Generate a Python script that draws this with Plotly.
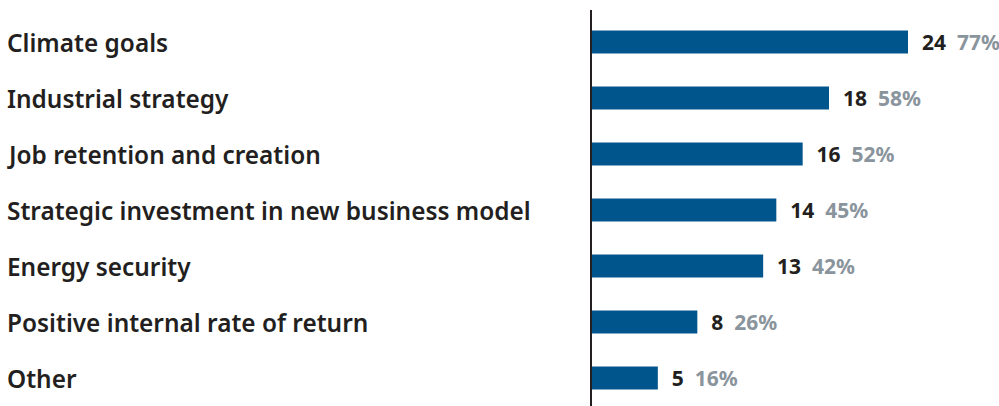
import plotly.graph_objects as go

categories = [
    "Climate goals",
    "Industrial strategy",
    "Job retention and creation",
    "Strategic investment in new business model",
    "Energy security",
    "Positive internal rate of return",
    "Other",
]
counts = [24, 18, 16, 14, 13, 8, 5]
shares = ["77%", "58%", "52%", "45%", "42%", "26%", "16%"]

BAR = "#00558c"
GREY = "#8a949c"
DARK = "#231f20"
FONT = "Noto Sans"

NB = "\u00a0"
labels = [f"{NB}{NB}<b>{c}</b>{NB}{NB}<span style='color:{GREY}'><b>{s}</b></span>" for c, s in zip(counts, shares)]

fig = go.Figure(go.Bar(
    x=counts,
    y=categories,
    orientation="h",
    marker=dict(color=BAR, line=dict(width=0)),
    width=0.41,
    text=labels,
    textposition="outside",
    textfont=dict(family=FONT, size=21, color=DARK),
    constraintext="none",
    cliponaxis=False,
    hoverinfo="skip",
))

W, H = 999, 406
ML, MR, MT, MB = 592, 12, 10, 0
plot_w = W - ML - MR

for c in categories:
    fig.add_annotation(
        x=-(ML - 5) / plot_w, xref="paper", xanchor="left",
        y=c, yref="y", yanchor="middle",
        text=c, showarrow=False,
        font=dict(family=FONT, size=24.4, color=DARK, weight=600),
    )

fig.update_layout(
    width=W, height=H,
    margin=dict(l=ML, r=MR, t=MT, b=MB, pad=0),
    paper_bgcolor="white", plot_bgcolor="white",
    showlegend=False,
    xaxis=dict(range=[0, 30], visible=False, fixedrange=True),
    yaxis=dict(
        categoryorder="array", categoryarray=categories,
        range=[6.5, -0.5714],
        showticklabels=False, showgrid=False, zeroline=False,
        showline=True, linecolor=DARK, linewidth=1.5, ticks="",
        fixedrange=True,
    ),
)

fig.write_html("out.html", config={"displayModeBar": False},
               post_script="document.body.style.margin='0';document.body.style.overflow='hidden';")
